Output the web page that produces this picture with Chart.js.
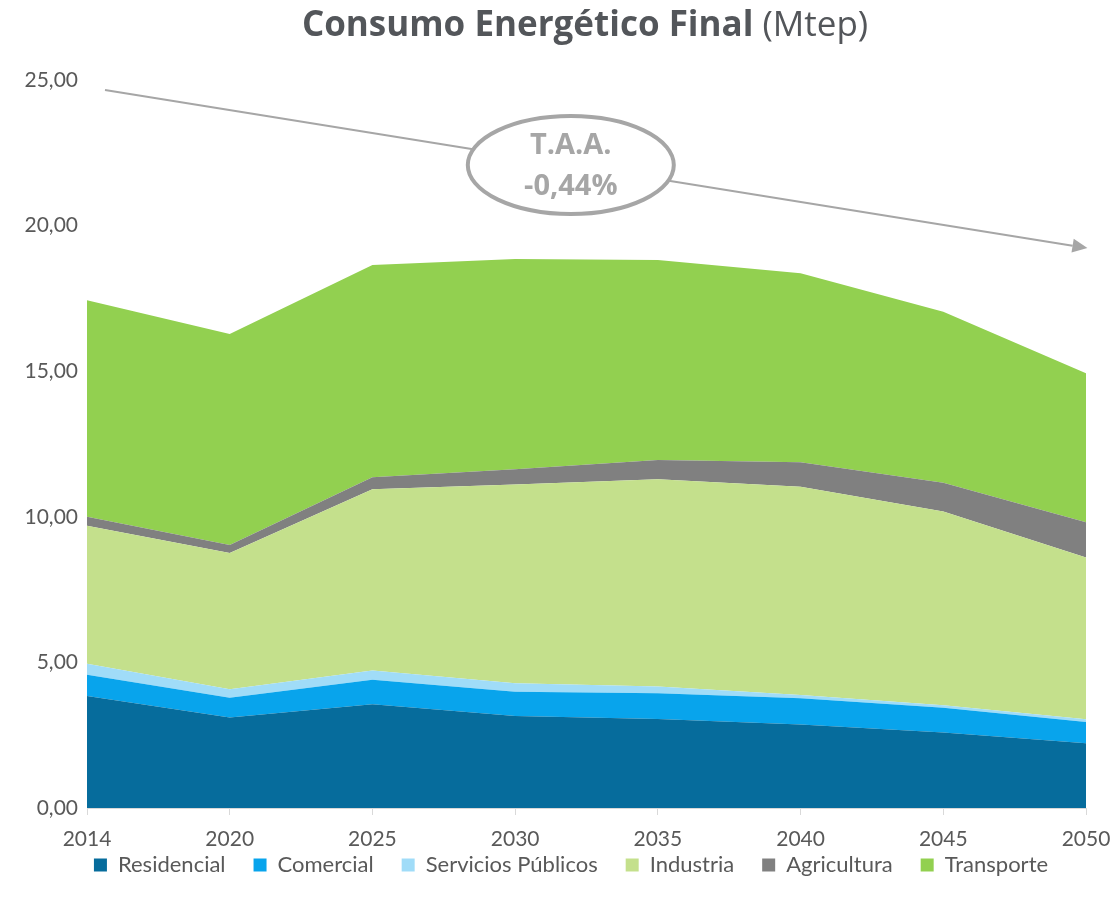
<!DOCTYPE html>
<html>
<head>
<meta charset="utf-8">
<script src="https://cdn.jsdelivr.net/npm/chart.js@4.4.1/dist/chart.umd.min.js"></script>
<style>
  html, body { margin: 0; padding: 0; background: #ffffff; }
  #wrap { position: relative; width: 1111px; height: 905px; }
</style>
</head>
<body>
<div id="wrap"><canvas id="c" width="1111" height="905"></canvas></div>
<script>
// ---- Data ----
const years = ['2014', '2020', '2025', '2030', '2035', '2040', '2045', '2050'];
const residencial = [3.85, 3.11, 3.56, 3.16, 3.06, 2.87, 2.59, 2.22];
const comercial   = [0.73, 0.68, 0.84, 0.83, 0.88, 0.90, 0.85, 0.73];
const servicios   = [0.37, 0.29, 0.32, 0.29, 0.23, 0.11, 0.09, 0.10];
const industria   = [4.74, 4.68, 6.23, 6.83, 7.12, 7.15, 6.65, 5.55];
const agricultura = [0.31, 0.27, 0.41, 0.52, 0.66, 0.84, 0.99, 1.21];
const transporte  = [7.44, 7.25, 7.29, 7.22, 6.87, 6.49, 5.87, 5.12];
const yTicks = [0, 5, 10, 15, 20, 25];
const titleBold = 'Consumo Energético Final';
const titleNormal = ' (Mtep)';
const taaLines = ['T.A.A.', '-0,44%'];
// trend arrow in data space (category index, value)
const arrowStart = [0.126, 24.66];
const arrowEnd = [7.01, 19.23];
const bubbleCenter = [3.39, 22.08];

const colors = {
  residencial: '#066c9c',
  comercial: '#08a4ec',
  servicios: '#a0dcf8',
  industria: '#c4e08c',
  agricultura: '#808080',
  transporte: '#92d050'
};

const FONT = 'Lato, "Open Sans", sans-serif';
const LEGEND_PAD = 28;
const LEGEND_FONT = 22;

function ds(label, data, color, fill) {
  return {
    label, data,
    backgroundColor: color,
    borderColor: color,
    borderWidth: 0,
    pointRadius: 0,
    pointHoverRadius: 0,
    fill: fill,
    tension: 0
  };
}

const titlePlugin = {
  id: 'titlePlugin',
  afterDraw(chart) {
    const ctx = chart.ctx;
    ctx.save();
    ctx.textBaseline = 'middle';
    const fb = 'bold 35px "Open Sans", sans-serif';
    const fn = '35px "Open Sans", sans-serif';
    ctx.font = fb; const w1 = ctx.measureText(titleBold).width;
    ctx.font = fn; const w2 = ctx.measureText(titleNormal).width;
    const x0 = 585 - (w1 + w2) / 2;
    ctx.fillStyle = '#53565a';
    ctx.font = fb; ctx.fillText(titleBold, x0, 26);
    ctx.font = fn; ctx.fillText(titleNormal, x0 + w1, 26);
    ctx.restore();
  }
};

// place the legend row a bit higher and centred under the plot like the original
const legendPlace = {
  id: 'legendPlace',
  afterLayout(chart) {
    const lg = chart.legend;
    if (!lg) return;
    const wantTop = 865 - LEGEND_FONT / 2 - LEGEND_PAD;
    const dy = wantTop - lg.top;
    lg.top += dy; lg.bottom += dy;
    const dx = 571 - (lg.left + lg.right) / 2;
    lg.left += dx; lg.right += dx;
  }
};

const annotPlugin = {
  id: 'annotPlugin',
  afterDatasetsDraw(chart) {
    const ctx = chart.ctx;
    const xs = chart.scales.x, ys = chart.scales.y;
    const px = v => xs.getPixelForValue(v);
    const py = v => ys.getPixelForValue(v);
    const x1 = px(arrowStart[0]), y1 = py(arrowStart[1]);
    const x2 = px(arrowEnd[0]), y2 = py(arrowEnd[1]);
    ctx.save();
    ctx.strokeStyle = '#a6a6a6';
    ctx.fillStyle = '#a6a6a6';
    ctx.lineWidth = 2;
    const ang = Math.atan2(y2 - y1, x2 - x1);
    const headLen = 15, headW = 7;
    const bx = x2 - headLen * Math.cos(ang), by = y2 - headLen * Math.sin(ang);
    ctx.beginPath(); ctx.moveTo(x1, y1); ctx.lineTo(bx, by); ctx.stroke();
    ctx.beginPath();
    ctx.moveTo(x2, y2);
    ctx.lineTo(bx + headW * Math.sin(ang), by - headW * Math.cos(ang));
    ctx.lineTo(bx - headW * Math.sin(ang), by + headW * Math.cos(ang));
    ctx.closePath(); ctx.fill();
    // bubble
    const cx = px(bubbleCenter[0]), cy = py(bubbleCenter[1]);
    ctx.beginPath();
    ctx.ellipse(cx, cy, 103, 49, 0, 0, Math.PI * 2);
    ctx.fillStyle = '#ffffff'; ctx.fill();
    ctx.lineWidth = 4; ctx.strokeStyle = '#a6a6a6'; ctx.stroke();
    ctx.fillStyle = '#a6a6a6';
    ctx.font = 'bold 29px "Open Sans", sans-serif';
    ctx.textAlign = 'center'; ctx.textBaseline = 'middle';
    ctx.fillText(taaLines[0], cx, cy - 19);
    ctx.fillText(taaLines[1], cx, cy + 22);
    ctx.restore();
  }
};

new Chart(document.getElementById('c'), {
  type: 'line',
  data: {
    labels: years,
    datasets: [
      ds('Residencial', residencial, colors.residencial, 'origin'),
      ds('Comercial', comercial, colors.comercial, '-1'),
      ds('Servicios Públicos', servicios, colors.servicios, '-1'),
      ds('Industria', industria, colors.industria, '-1'),
      ds('Agricultura', agricultura, colors.agricultura, '-1'),
      ds('Transporte', transporte, colors.transporte, '-1')
    ]
  },
  options: {
    responsive: false,
    animation: false,
    devicePixelRatio: 1,
    layout: { padding: { top: 80, right: 25, left: 0, bottom: 0 } },
    plugins: {
      title: { display: false },
      tooltip: { enabled: false },
      legend: {
        position: 'bottom',
        maxHeight: 52,
        labels: {
          boxWidth: 13, boxHeight: 13,
          padding: LEGEND_PAD,
          color: '#595959',
          font: { family: FONT, size: LEGEND_FONT }
        }
      }
    },
    scales: {
      x: {
        offset: false,
        grid: { drawOnChartArea: false, drawTicks: true, tickLength: 7, color: '#d9d9d9' },
        border: { display: true, color: '#d9d9d9', width: 1 },
        ticks: {
          color: '#595959', padding: 12, maxRotation: 0, autoSkip: false,
          font: { family: FONT, size: 21 }
        },
        afterFit(s) { s.height = 45; s.paddingLeft = 0; s.paddingRight = 0; }
      },
      y: {
        stacked: true,
        min: 0, max: 25,
        grid: { display: false, drawTicks: false },
        border: { display: false },
        afterBuildTicks(s) { s.ticks = yTicks.map(v => ({ value: v })); },
        ticks: {
          color: '#595959', padding: 9,
          font: { family: FONT, size: 21 },
          callback: v => v.toFixed(2).replace('.', ',')
        },
        afterFit(s) { s.width = 87; s.paddingTop = 0; s.paddingBottom = 0; }
      }
    }
  },
  plugins: [titlePlugin, legendPlace, annotPlugin]
});
</script>
</body>
</html>
